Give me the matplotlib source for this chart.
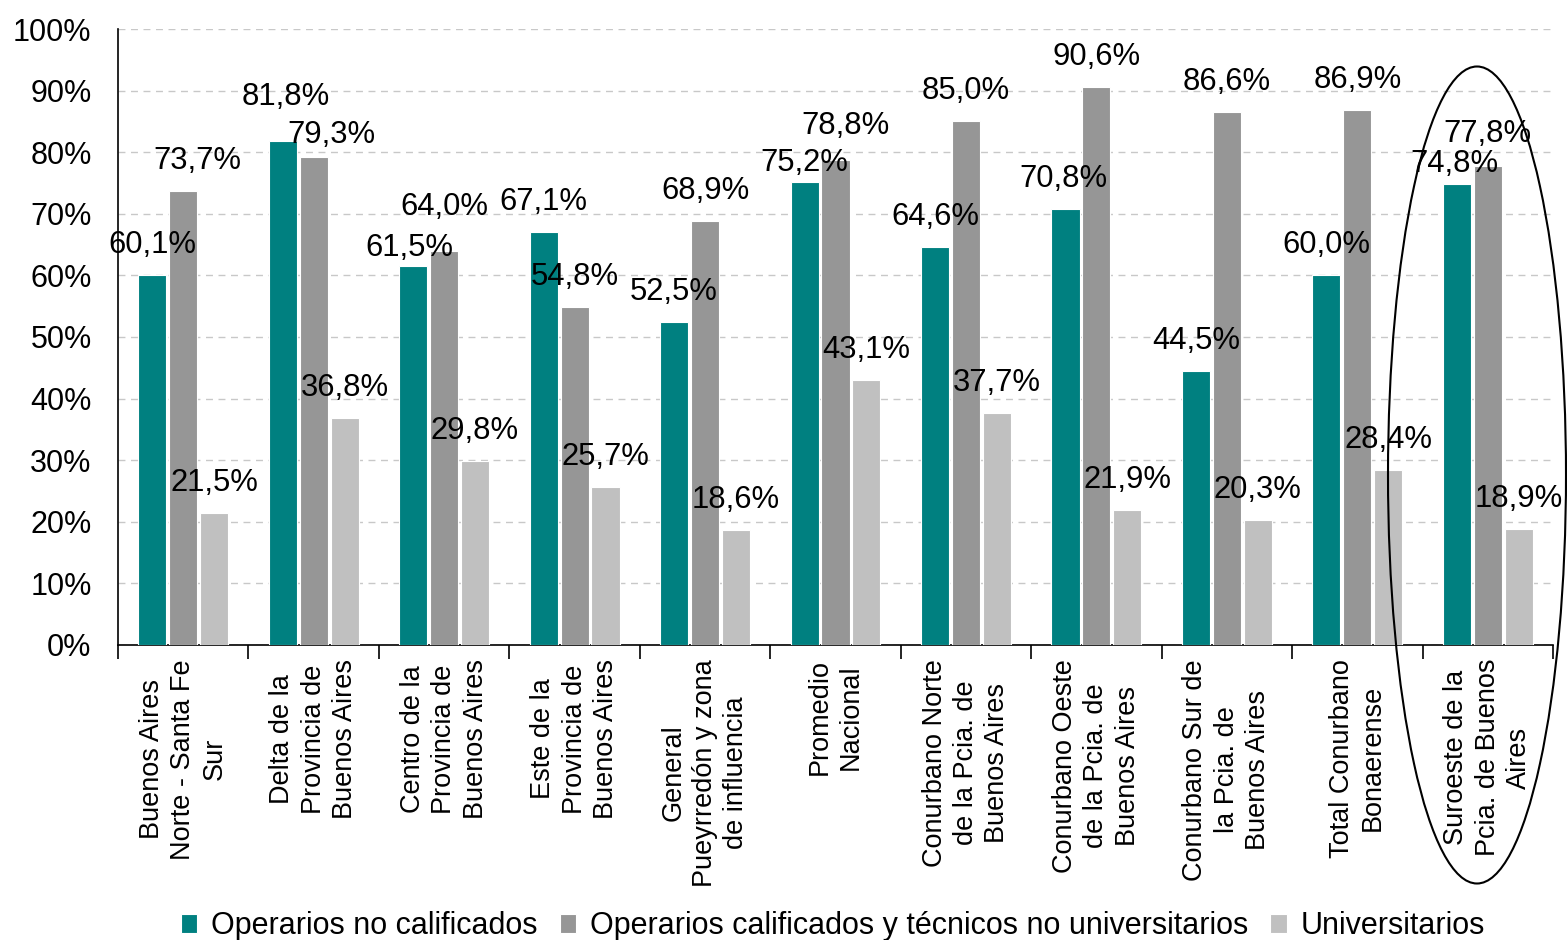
import matplotlib
matplotlib.use("Agg")
import matplotlib.pyplot as plt
from matplotlib.patches import Ellipse
import numpy as np

plt.rcParams['font.family'] = ['Liberation Sans', 'DejaVu Sans']

categories = [
    "Buenos Aires\nNorte - Santa Fe\nSur",
    "Delta de la\nProvincia de\nBuenos Aires",
    "Centro de la\nProvincia de\nBuenos Aires",
    "Este de la\nProvincia de\nBuenos Aires",
    "General\nPueyrredón y zona\nde influencia",
    "Promedio\nNacional",
    "Conurbano Norte\nde la Pcia. de\nBuenos Aires",
    "Conurbano Oeste\nde la Pcia. de\nBuenos Aires",
    "Conurbano Sur de\nla Pcia. de\nBuenos Aires",
    "Total Conurbano\nBonaerense",
    "Suroeste de la\nPcia. de Buenos\nAires",
]
series_names = [
    "Operarios no calificados",
    "Operarios calificados y técnicos no universitarios",
    "Universitarios",
]
no_calificados = [60.1, 81.8, 61.5, 67.1, 52.5, 75.2, 64.6, 70.8, 44.5, 60.0, 74.8]
calificados = [73.7, 79.3, 64.0, 54.8, 68.9, 78.8, 85.0, 90.6, 86.6, 86.9, 77.8]
universitarios = [21.5, 36.8, 29.8, 25.7, 18.6, 43.1, 37.7, 21.9, 20.3, 28.4, 18.9]
yticks = [0, 10, 20, 30, 40, 50, 60, 70, 80, 90, 100]

colors = ["#008080", "#969696", "#C0C0C0"]

# label nudges in pixels (series index, category index): (dx, dy)
nudges = {
    (0, 1): (3, 14), (1, 1): (18, -8), (0, 2): (-4, -12), (1, 2): (0, 14),
    (0, 5): (0, -11), (1, 5): (10, 4), (0, 10): (-2, -10), (1, 10): (0, 2),
    (1, 0): (14, 0), (0, 7): (-2, 0),
}

fig = plt.figure(figsize=(15.67, 9.40), dpi=100)
ax = fig.add_axes([118/1567, 1-645/940, (1553-118)/1567, (645-29)/940])

x = np.arange(len(categories))
width = 0.215
offsets = [-0.237, 0.0, 0.237]
all_series = [no_calificados, calificados, universitarios]

for si, (vals, off, col, name) in enumerate(zip(all_series, offsets, colors, series_names)):
    bars = ax.bar(x + off, vals, width, color=col, edgecolor='white', linewidth=0.8,
                  label=name, zorder=3)
    for ci, (b, v) in enumerate(zip(bars, vals)):
        dx, dy = nudges.get((si, ci), (0, 0))
        ax.annotate(f"{v:.1f}%".replace('.', ','),
                    (b.get_x() + b.get_width()/2, v),
                    xytext=(dx, 30 + dy), textcoords='offset pixels',
                    ha='center', va='center', fontsize=22.3, color='black', zorder=5)

ax.set_xlim(-0.5, len(categories) - 0.5)
ax.set_ylim(0, 100)
ax.set_yticks(yticks)
ax.set_yticklabels([f"{t}%" for t in yticks], fontsize=22)
ax.tick_params(axis='y', length=0, pad=19)
ax.yaxis.grid(True, linestyle=(0, (5, 4)), color='#C8C8C8', linewidth=1.0, zorder=0)
ax.set_axisbelow(True)

ax.set_xticks(x)
ax.set_xticklabels(categories, rotation=90, fontsize=19.5, va='top', ha='center',
                   multialignment='center', linespacing=1.27)
ax.set_xticks(np.arange(-0.5, len(categories)), minor=True)
ax.tick_params(axis='x', which='major', length=0, pad=10)
ax.tick_params(axis='x', which='minor', length=10, width=1.2, color='black', direction='out')

for s in ['top', 'right']:
    ax.spines[s].set_visible(False)
ax.spines['left'].set_linewidth(1.2)
ax.spines['bottom'].set_linewidth(1.2)

fig.legend(loc='center', bbox_to_anchor=(833/1567, 1-926/940), ncol=3, frameon=False,
           fontsize=22, handlelength=0.55, handleheight=0.6, handletextpad=0.45,
           columnspacing=0.72, borderpad=0, borderaxespad=0)

ell = Ellipse((1477/1567, 1-475/940), 178/1567, 817/940, transform=fig.transFigure,
              fill=False, edgecolor='black', linewidth=1.5, zorder=10)
fig.patches.append(ell)

fig.savefig("out.png", dpi=100)
